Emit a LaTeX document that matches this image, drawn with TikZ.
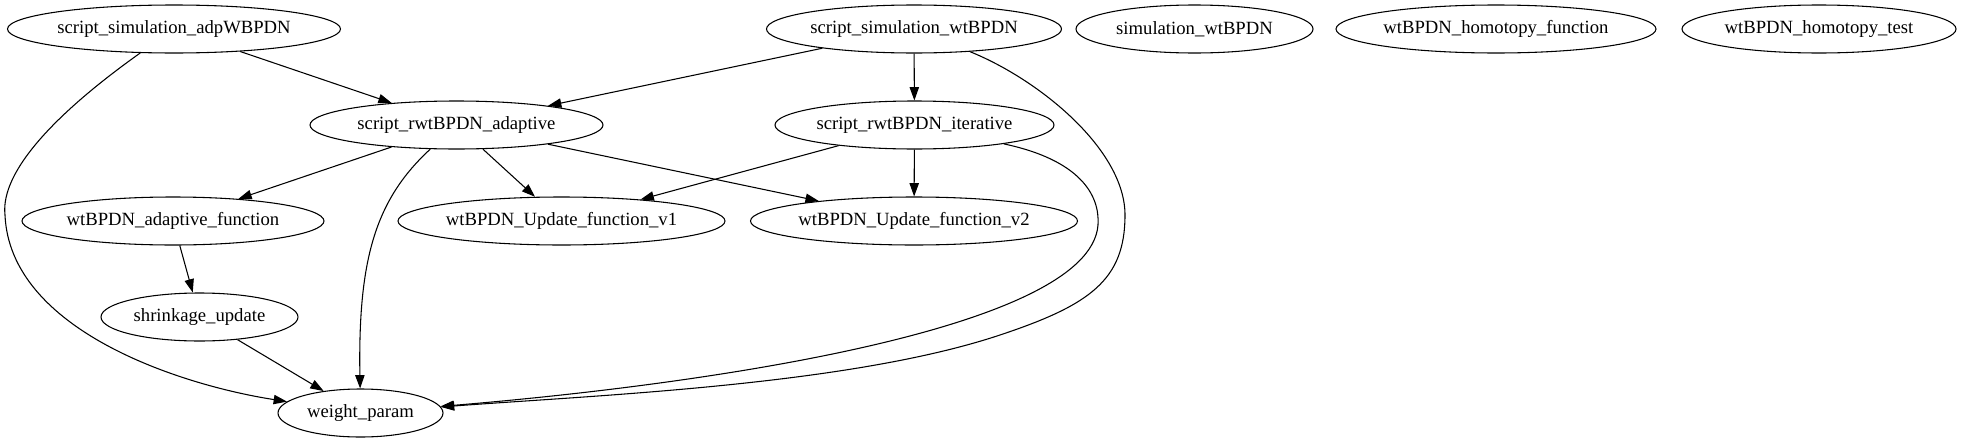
\documentclass[tikz,border=0pt]{standalone}
\usepackage{fontspec}
\setmainfont{Liberation Serif}
\usetikzlibrary{shapes.geometric,arrows.meta}
\begin{document}
\begin{tikzpicture}[x=0.75pt,y=-0.75pt,
  gnode/.style={draw,ellipse,inner sep=0pt,minimum height=36pt,line width=0.8pt,
    font=\fontsize{14pt}{16pt}\selectfont},
  arr/.style={line width=0.8pt,-{Triangle[length=10pt,width=7pt]}}]
\useasboundingbox (0,0) rectangle (1963,443);
% row 1
\node[gnode,minimum width=249.75pt] (adp) at (174,29) {script\_simulation\_adpWBPDN};
\node[gnode,minimum width=221.25pt] (swt) at (914,29) {script\_simulation\_wtBPDN};
\node[gnode,minimum width=177.75pt] (sim) at (1194.5,29) {simulation\_wtBPDN};
\node[gnode,minimum width=240pt] (hf) at (1496,29) {wtBPDN\_homotopy\_function};
\node[gnode,minimum width=205.5pt] (ht) at (1819,29) {wtBPDN\_homotopy\_test};
% row 2
\node[gnode,minimum width=219.75pt] (ada) at (456.5,125) {script\_rwtBPDN\_adaptive};
\node[gnode,minimum width=209.25pt] (ite) at (914.5,125) {script\_rwtBPDN\_iterative};
% row 3
\node[gnode,minimum width=226.5pt] (af) at (173,221) {wtBPDN\_adaptive\_function};
\node[gnode,minimum width=243.75pt] (v1) at (561.5,221) {wtBPDN\_Update\_function\_v1};
\node[gnode,minimum width=243pt] (v2) at (914,221) {wtBPDN\_Update\_function\_v2};
% row 4
\node[gnode,minimum width=147.75pt] (sh) at (199.5,317) {shrinkage\_update};
% row 5
\node[gnode,minimum width=123.75pt] (wp) at (360.5,413) {weight\_param};
% waypoints
\coordinate (w1) at (5,215);
\coordinate (w2) at (1125,215);
\coordinate (w3) at (1000,335);
\coordinate (w4) at (1098,225);
% edges
\draw[arr] (adp) -- (ada);
\draw[arr] (adp) .. controls (60,110) and (0,170) .. (w1) .. controls (10,330) and (180,385) .. (wp);
\draw[arr] (swt) -- (ada);
\draw[arr] (swt) -- (ite);
\draw[arr] (swt) .. controls (1040,80) and (1125,150) .. (w2) .. controls (1125,280) and (1090,305) .. (w3) .. controls (850,385) and (600,395) .. (wp);
\draw[arr] (ada) -- (af);
\draw[arr] (ada) -- (v1);
\draw[arr] (ada) -- (v2);
\draw[arr] (ada) .. controls (375,200) and (358,260) .. (wp);
\draw[arr] (ite) -- (v1);
\draw[arr] (ite) -- (v2);
\draw[arr] (ite) .. controls (1080,160) and (1100,195) .. (w4) .. controls (1090,330) and (700,385) .. (wp);
\draw[arr] (af) -- (sh);
\draw[arr] (sh) -- (wp);
\end{tikzpicture}
\end{document}
